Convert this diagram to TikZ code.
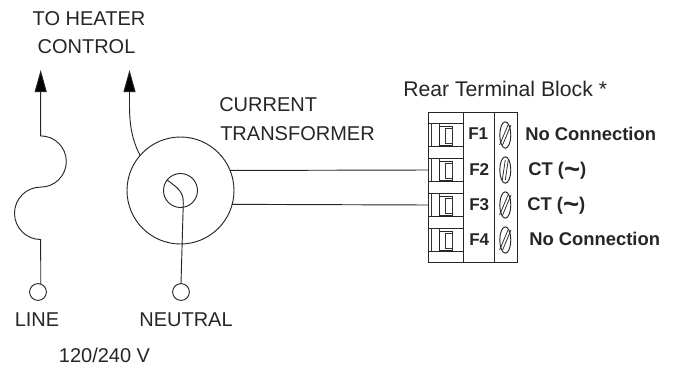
\documentclass[tikz,border=0pt]{standalone}
\usepackage{fontspec}
\usepackage{graphicx}
\setmainfont{Liberation Sans}
\usetikzlibrary{arrows.meta}
\tikzset{
  x=0.75pt,y=-0.75pt,
  wire/.style={draw=black!85,line width=0.7pt},
  thinline/.style={draw=black!80,line width=0.6pt},
  tiparrow/.style={-{Triangle[length=16.5pt,width=9pt,fill=black]}},
  lab/.style={font=\fontsize{15pt}{17pt}\selectfont,text=black!85,inner sep=0pt,anchor=base},
  labw/.style={lab,anchor=base west},
  rearlab/.style={labw,font=\fontsize{15.9pt}{18pt}\selectfont},
  blab/.style={font=\bfseries\fontsize{13.8pt}{15pt}\selectfont,text=black!85,inner sep=0pt,anchor=base west},
  flab/.style={blab,font=\bfseries\fontsize{12.8pt}{15pt}\selectfont},
  term/.style={circle,wire,minimum size=12.6pt,inner sep=0pt,outer sep=0pt},
  ringshape/.style={circle,wire,inner sep=0pt,outer sep=0pt},
}
\newcommand{\actilde}{\raisebox{-2.8pt}{\scalebox{1.5}{\textasciitilde}}}
\begin{document}
\begin{tikzpicture}
\useasboundingbox (0,0) rectangle (676,365);
\fill[white] (0,0) rectangle (676,365);
\node[lab] (t1) at (89,25) {TO HEATER};
\node[lab] (t2) at (86.5,53) {CONTROL};
\node[labw] (t3) at (219,111.5) {CURRENT};
\node[labw] (t4) at (220,140) {TRANSFORMER};
\node[rearlab] (t5) at (403,96) {Rear Terminal Block *};
\node[lab] (t6) at (37,326.7) {LINE};
\node[lab] (t7) at (186,326) {NEUTRAL};
\node[lab] (t8) at (104.5,362) {120/240 V};
% circles
\node[term] (L) at (38,292) {};
\node[term] (N) at (181,292) {};
\node[ringshape,minimum size=80.25pt] (ct) at (180.5,190.5) {};
\node[ringshape,minimum size=25.5pt] (core) at (180.5,190.5) {};
\coordinate (tipA) at (40.7,70);
\coordinate (tipB) at (129.5,70);
\coordinate (f2in) at (428,170);
\coordinate (f3in) at (428,205);
% fuse line
\draw[wire,tiparrow] (L.71) -- (40.7,239.5)
  arc[start angle=90,end angle=270,radius=26.2]
  arc[start angle=90,end angle=-90,radius=25.6]
  -- (tipA);
% transformer lead
\draw[wire,tiparrow] (ct.139.5) .. controls (132,140) and (129.5,125) .. (129.5,105) -- (tipB);
% neutral through core
\draw[wire] (N.north) -- (183.3,203) .. controls (183.6,192) and (178,188) .. (core.142);
% CT wires
\draw[wire] (ct.22.5) -- (f2in);
\draw[wire] (ct.-15.7) -- (f3in);
% block
\draw[wire] (428,112.7) rectangle (517,262.7);
\draw[wire] (463,112.7) -- (463,262.7);
\draw[wire] (494,112.7) -- (494,262.7);
\foreach \y/\t in {135/4.2,170/1.5,205/4.2,240/4.2}{
  \draw[wire] (428,\y+11) -- (463,\y+11);
  \draw[wire] (428,\y-12) -- (463,\y-12);
  \draw[thinline] (431,\y-12) -- (431,\y+11);
  \draw[thinline] (439,\y-12) -- (439,\y+11);
  \draw[wire] (439.3,\y-9) rectangle (452.7,\y+10);
  \draw[thinline] (445,\y-7) rectangle (452.7,\y+8);
  \draw[wire] (505.3,\y) ellipse[x radius=5.5,y radius=13.2];
  \draw[thinline] (505.3-\t-1.5,\y+10) -- (505.3+\t-1.5,\y-10);
  \draw[thinline] (505.3-\t+1.5,\y+10) -- (505.3+\t+1.5,\y-10);
}
\node[flab] (f1) at (468,139.5) {F1};
\node[flab] (f2) at (469,175) {F2};
\node[flab] (f3) at (469,210) {F3};
\node[flab] (f4) at (469,245) {F4};
\node[blab] (l1) at (525,140) {No Connection};
\node[blab] (l2) at (528,175) {CT (\actilde)};
\node[blab] (l3) at (527,210) {CT (\actilde)};
\node[blab] (l4) at (529,245.5) {No Connection};
\end{tikzpicture}
\end{document}
